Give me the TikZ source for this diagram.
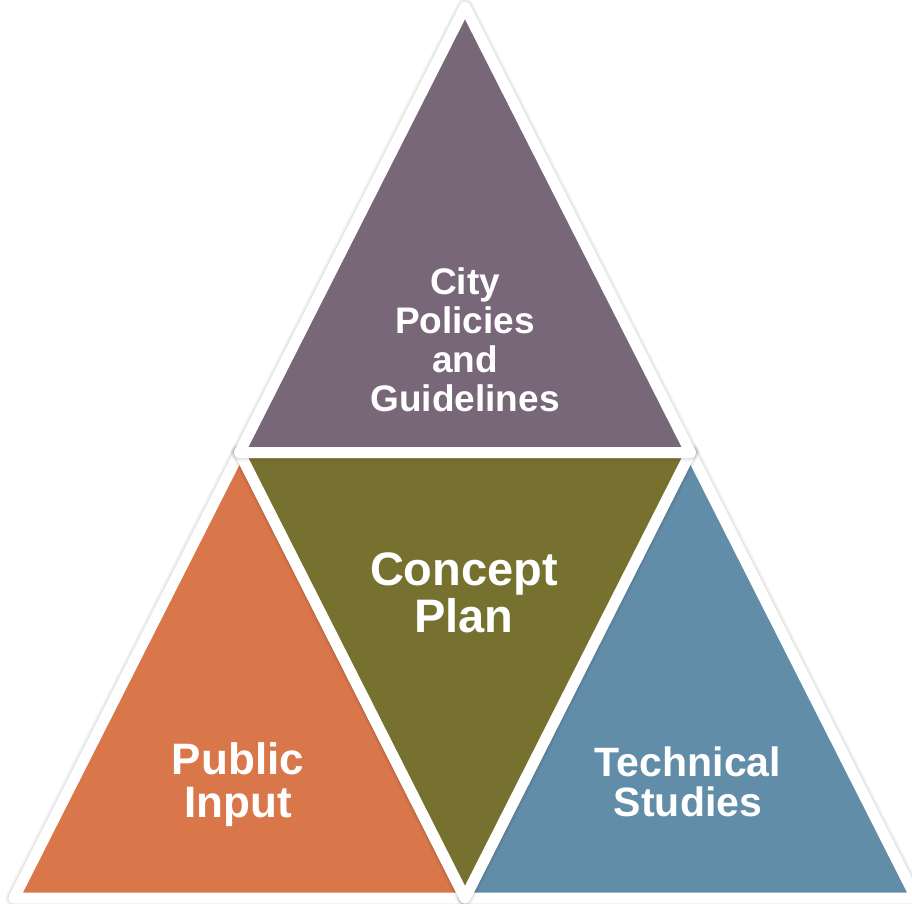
\documentclass[tikz,border=0pt]{standalone}
\usepackage{fontspec}
\setmainfont{Liberation Sans}
\definecolor{cpurple}{HTML}{786779}
\definecolor{colive}{HTML}{77712F}
\definecolor{corange}{HTML}{D9774A}
\definecolor{cblue}{HTML}{628DA8}
\tikzset{
  tri/.style={fill=#1, draw=white, line width=11pt, line join=round},
  shad/.style={draw=black, fill=black, draw opacity=#1, fill opacity=#1, line width=13pt, line join=round, xshift=1.5pt, yshift=-2.5pt},
  lbl/.style={text=white, align=center, inner sep=0pt, font=\bfseries}
}
\begin{document}
\begin{tikzpicture}[x=1pt,y=-1pt]
\useasboundingbox (0,0) rectangle (912,903);
\clip (0,0) rectangle (912,903);
\coordinate (A) at (465,7);
\coordinate (L) at (14,898);
\coordinate (R) at (916,898);
\coordinate (ML) at (239.5,452.5);
\coordinate (MR) at (690.5,452.5);
\coordinate (MB) at (465,898);
% orange
\foreach \o/\w in {0.05/17, 0.08/13} {\path[shad=\o, line width=\w pt] (ML) -- (MB) -- (L) -- cycle;}
\path[tri=corange] (ML) -- (MB) -- (L) -- cycle;
% blue
\foreach \o/\w in {0.05/17, 0.08/13} {\path[shad=\o, line width=\w pt] (MR) -- (R) -- (MB) -- cycle;}
\path[tri=cblue] (MR) -- (R) -- (MB) -- cycle;
% olive
\foreach \o/\w in {0.05/17, 0.08/13} {\path[shad=\o, line width=\w pt] (ML) -- (MR) -- (MB) -- cycle;}
\path[tri=colive] (ML) -- (MR) -- (MB) -- cycle;
% purple
\foreach \o/\w in {0.05/17, 0.08/13} {\path[shad=\o, line width=\w pt] (A) -- (MR) -- (ML) -- cycle;}
\path[tri=cpurple] (A) -- (MR) -- (ML) -- cycle;
% labels
\node[lbl, font=\fontsize{37}{39}\selectfont\bfseries] (city) at (465,340) {City\\Policies\\and\\Guidelines};
\node[lbl, font=\fontsize{47}{47}\selectfont\bfseries] (concept) at (464,593) {Concept\\Plan};
\node[lbl, font=\fontsize{44}{43}\selectfont\bfseries] (public) at (238,785) {Public\\Input};
\node[lbl, font=\fontsize{41}{40}\selectfont\bfseries] (tech) at (688,782) {Technical\\Studies};
\end{tikzpicture}
\end{document}
